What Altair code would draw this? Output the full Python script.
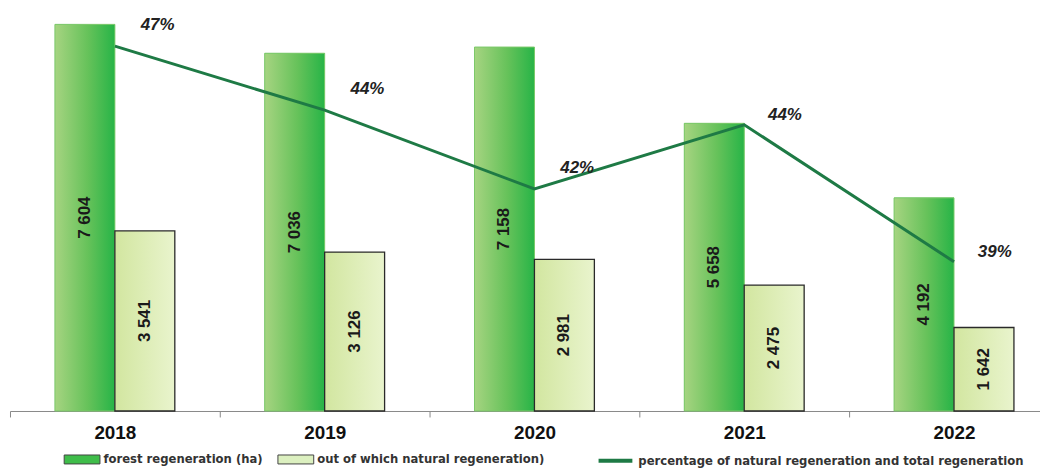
import altair as alt
import pandas as pd

years = ["2018", "2019", "2020", "2021", "2022"]
forest = [7604, 7036, 7158, 5658, 4192]
natural = [3541, 3126, 2981, 2475, 1642]
pct = [46.6, 44.4, 41.7, 43.9, 39.2]
pct_labels = ["47%", "44%", "42%", "44%", "39%"]

S1 = "forest regeneration (ha)"
S2 = "out of which natural regeneration)"
S3 = "percentage of natural regeneration and total regeneration"

bars = pd.DataFrame({
    "year": years * 2,
    "series": [S1] * len(years) + [S2] * len(years),
    "value": forest + natural,
})
line = pd.DataFrame({"year": years, "pct": pct, "label": pct_labels, "metric": [S3] * len(years)})

FONT = "Liberation Sans"
NARROW = "DejaVu Sans Condensed, Liberation Sans"

xscale = alt.Scale(domain=years, range=[0, 1055], paddingInner=0, paddingOuter=0)
xo_scale = alt.Scale(domain=[S1, S2], paddingInner=0, paddingOuter=0.75)
yscale = alt.Scale(domain=[0, 7900], nice=False, zero=True)
pscale = alt.Scale(domain=[34.08, 47.86], nice=False, zero=False)

x_enc = alt.X("year:N", scale=xscale, title=None,
              axis=alt.Axis(labelFont=FONT, labelFontSize=19, labelFontWeight="bold",
                            labelColor="#111", labelAngle=0, domainColor="#888",
                            tickColor="#888", tickSize=6, tickBand="extent",
                            labelPadding=7, grid=False))
xo_enc = alt.XOffset("series:N", scale=xo_scale)
y_enc = alt.Y("value:Q", scale=yscale, axis=None)

grad_green = alt.Gradient(gradient="linear", x1=0, x2=1, y1=0, y2=0, stops=[
    alt.GradientStop(color="#a6d481", offset=0),
    alt.GradientStop(color="#66c25a", offset=0.55),
    alt.GradientStop(color="#27b447", offset=1),
])
grad_light = alt.Gradient(gradient="linear", x1=0, x2=1, y1=0, y2=0, stops=[
    alt.GradientStop(color="#d2e6a0", offset=0),
    alt.GradientStop(color="#e9f4cd", offset=1),
])

base_bar = alt.Chart(bars)

legend_bars = base_bar.mark_bar().encode(
    x=x_enc, xOffset=xo_enc, y=y_enc,
    color=alt.Color("series:N",
                    scale=alt.Scale(domain=[S1, S2], range=["#3fbd4a", "#dcf0c0"]),
                    legend=alt.Legend(orient="none", legendX=63, legendY=443,
                                      direction="horizontal", title=None,
                                      symbolType="M-2,-0.5H2V0.5H-2Z", symbolSize=324,
                                      symbolStrokeColor="#444", symbolStrokeWidth=1,
                                      labelFont=NARROW, labelFontSize=13,
                                      labelFontWeight="bold", labelColor="#333",
                                      labelOffset=12, columnPadding=12, labelLimit=0)),
)

green_bars = base_bar.transform_filter(alt.datum.series == S1).mark_bar(
    color=grad_green, stroke="#7cc96a", strokeWidth=1
).encode(x=x_enc, xOffset=xo_enc, y=y_enc)

light_bars = base_bar.transform_filter(alt.datum.series == S2).mark_bar(
    color=grad_light, stroke="#2a2a2a", strokeWidth=1.3
).encode(x=x_enc, xOffset=xo_enc, y=y_enc)

bar_labels = base_bar.transform_calculate(
    mid="datum.value / 2",
    lbl="replace(format(datum.value, ','), ',', ' ')",
).mark_text(angle=270, font=FONT, fontSize=17, fontWeight="bold", color="#1a1a1a",
            align="center", baseline="middle").encode(
    x=x_enc, xOffset=xo_enc, y=alt.Y("mid:Q", scale=yscale, axis=None), text="lbl:N"
)

line_layer = alt.Chart(line).mark_line(strokeWidth=3).encode(
    x=x_enc,
    y=alt.Y("pct:Q", scale=pscale, axis=None),
    stroke=alt.Stroke("metric:N", scale=alt.Scale(domain=[S3], range=["#1e7a45"]),
                      legend=alt.Legend(orient="none", legendX=590, legendY=435,
                                        direction="horizontal", title=None,
                                        symbolType="stroke", symbolSize=1156,
                                        symbolStrokeWidth=4,
                                        labelFont=NARROW, labelFontSize=13,
                                        labelFontWeight="bold", labelColor="#333",
                                        labelOffset=4, labelLimit=0)),
)

pct_hi = alt.Chart(line).transform_filter(
    (alt.datum.year == "2018") | (alt.datum.year == "2019") | (alt.datum.year == "2020")
).mark_text(dx=43, dy=-21, font=FONT, fontSize=17, fontWeight="bold", fontStyle="italic",
            color="#222").encode(x=x_enc, y=alt.Y("pct:Q", scale=pscale, axis=None), text="label:N")

pct_lo = alt.Chart(line).transform_filter(
    (alt.datum.year == "2021") | (alt.datum.year == "2022")
).mark_text(dx=41, dy=-10, font=FONT, fontSize=17, fontWeight="bold", fontStyle="italic",
            color="#222").encode(x=x_enc, y=alt.Y("pct:Q", scale=pscale, axis=None), text="label:N")

chart = alt.layer(
    legend_bars, green_bars, light_bars, bar_labels, line_layer, pct_hi, pct_lo
).resolve_scale(y="independent").properties(
    width=1036, height=404,
    autosize=alt.AutoSizeParams(type="none"),
    padding={"left": 2, "top": 0, "right": 0, "bottom": 58},
).configure_view(stroke=None)

chart.save("out.html", embed_options={"renderer": "svg", "actions": False})
